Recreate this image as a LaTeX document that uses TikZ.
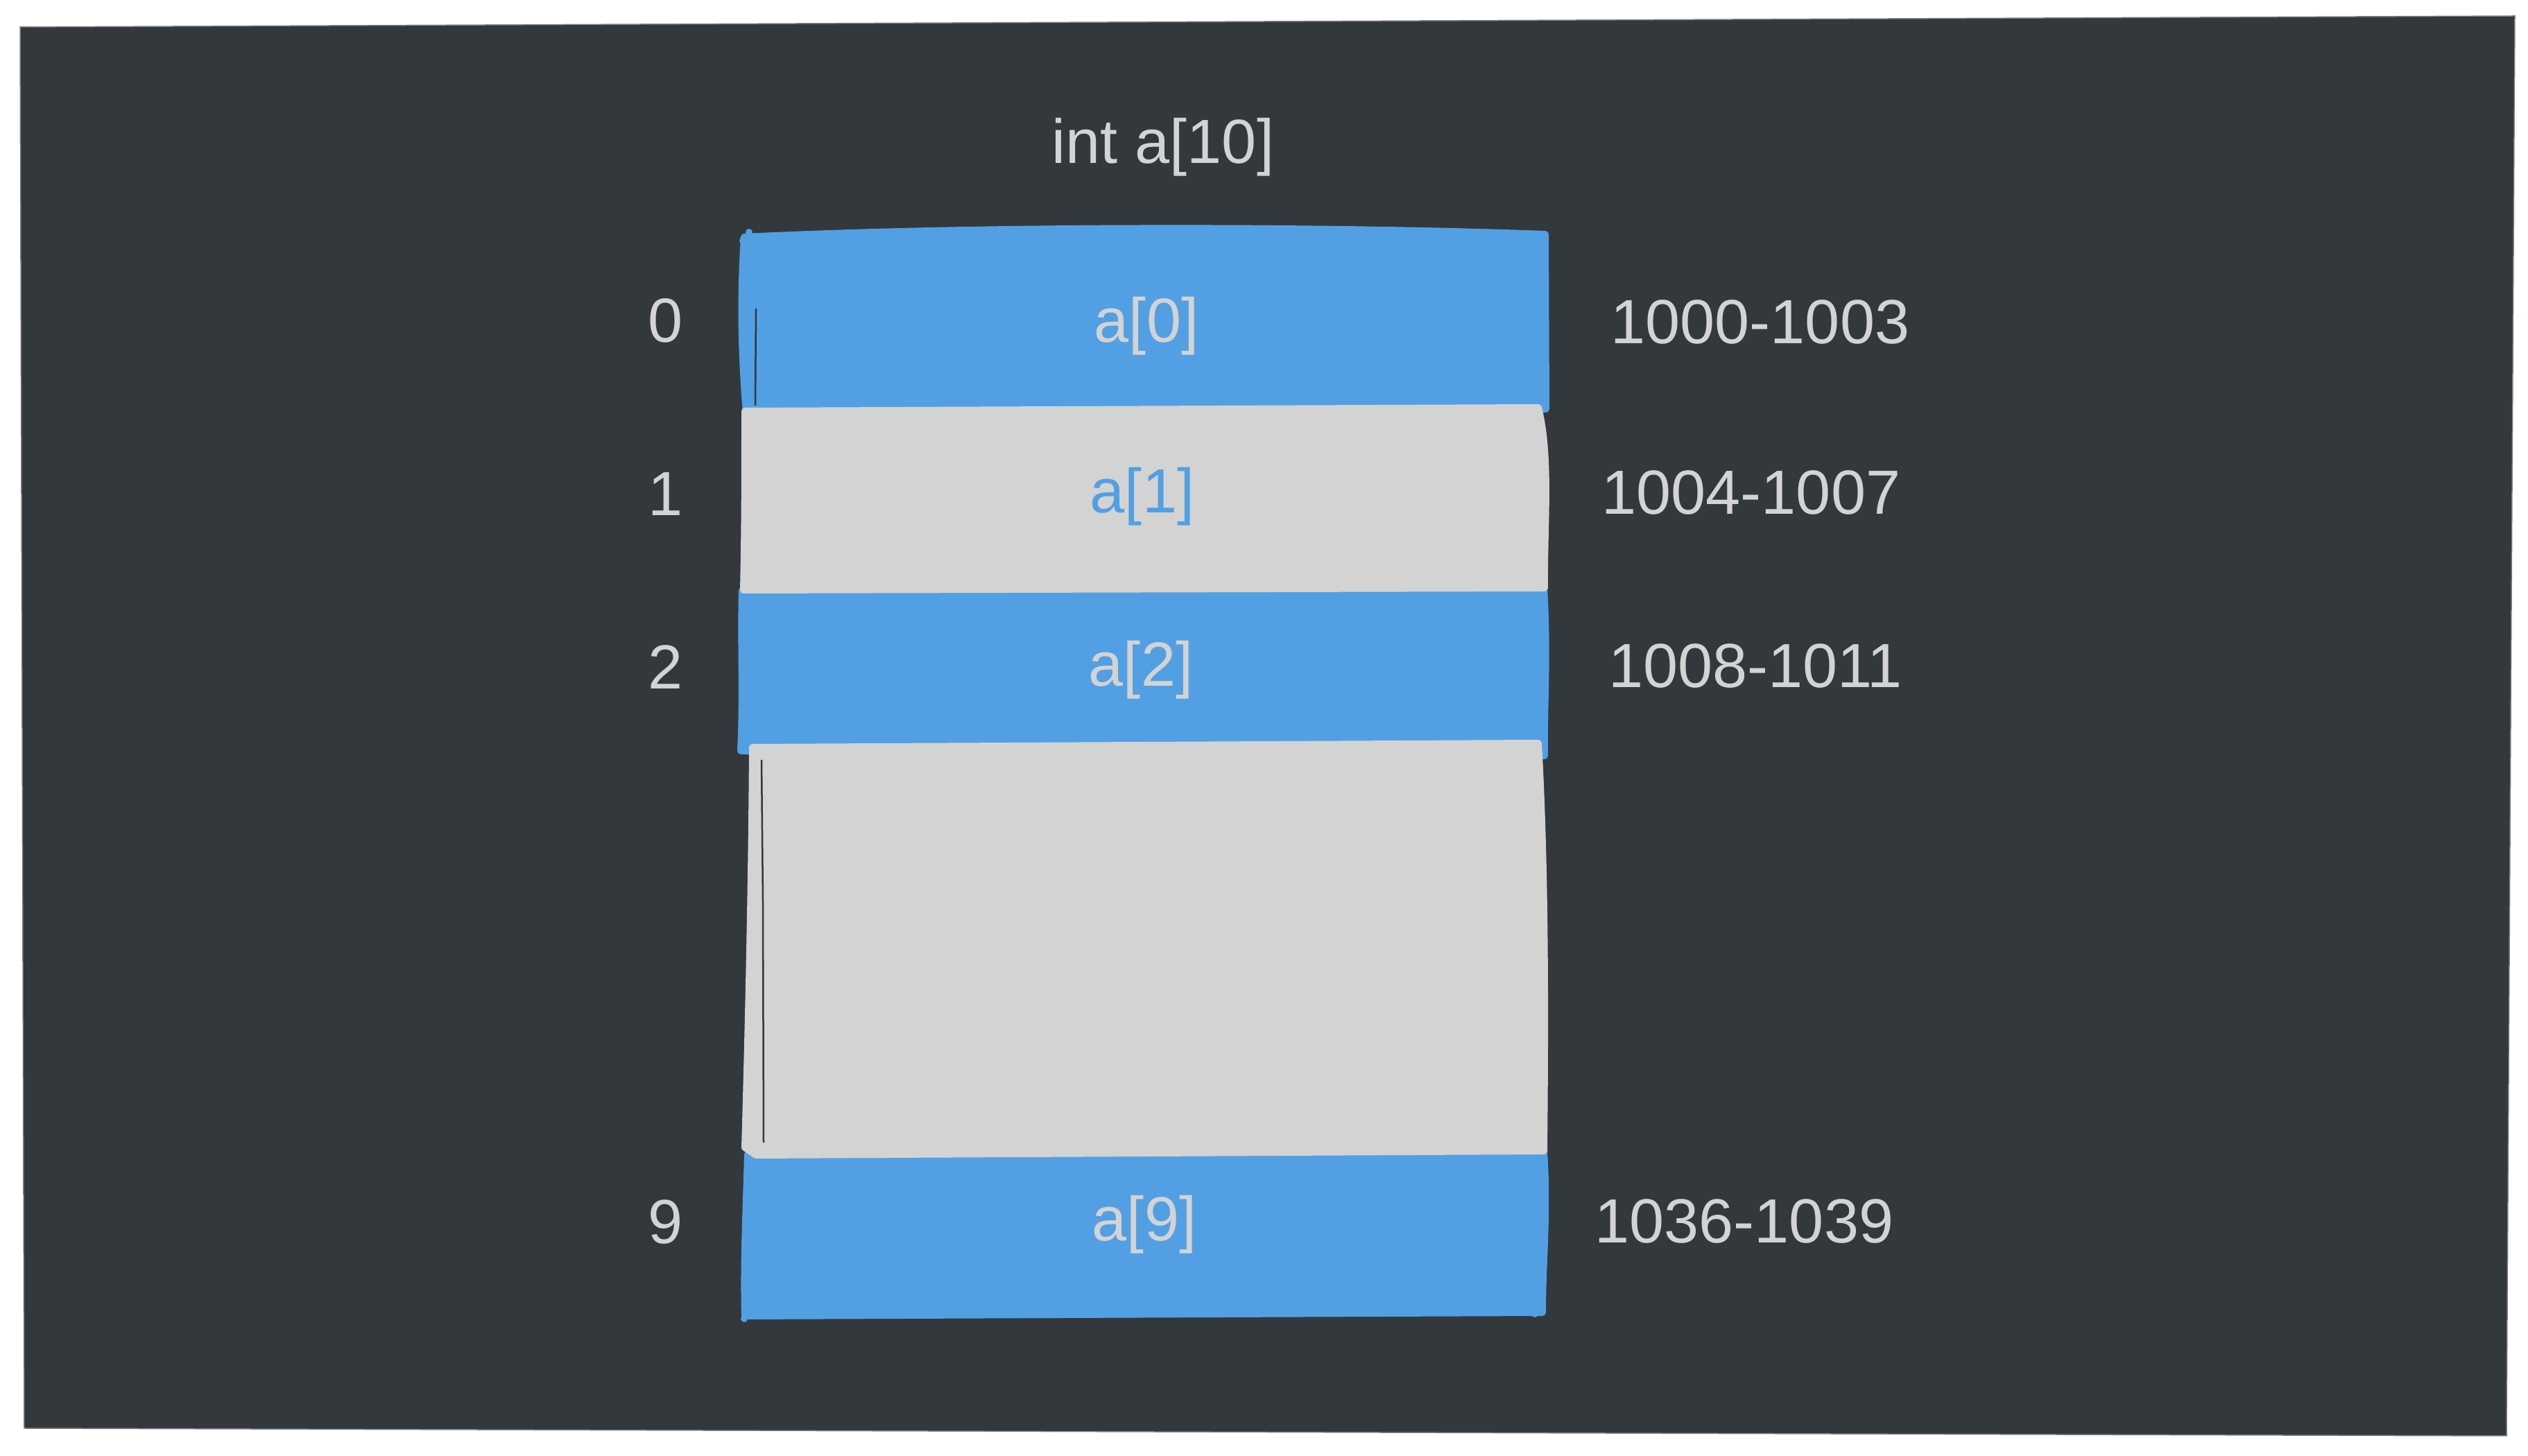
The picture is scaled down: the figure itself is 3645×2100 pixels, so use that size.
\documentclass[tikz,border=0pt]{standalone}
\usepackage{fontspec}
\setmainfont{Liberation Sans}
\definecolor{bgdark}{HTML}{33383D}
\definecolor{bgedge}{HTML}{7A7F85}
\definecolor{cellblue}{HTML}{52A0E3}
\definecolor{cellgray}{HTML}{D3D3D3}
\definecolor{txtgray}{HTML}{D3D3D3}
\tikzset{
  rowblue/.style={fill=cellblue, draw=cellblue, line width=2pt, line join=round, line cap=round},
  rowgray/.style={fill=cellgray, draw=cellgray, line width=2pt, line join=round, line cap=round},
  crack/.style={draw=bgdark, line width=0.5pt},
  txt/.style={anchor=base, inner sep=0pt, text=txtgray, font=\fontsize{18}{22}\selectfont},
  bluetxt/.style={txt, text=cellblue},
}
\begin{document}
\begin{tikzpicture}[x=0.2pt, y=-0.2pt]
\useasboundingbox (0,0) rectangle (3645,2100);
\fill[white] (0,0) rectangle (3645,2100);
% dark canvas
\filldraw[fill=bgdark, draw=bgedge, line width=0.3pt]
  (29,39) -- (3626,23) -- (3614,2071) -- (35,2060) -- cycle;

% ---- blue rows ----
% a[0]
\path[rowblue] (1073,342) .. controls (1400,326) and (1900,326) .. (2228,338)
  -- (2229,590) -- (1076,596) .. controls (1068,500) and (1068,420) .. (1073,342) -- cycle;
\fill[cellblue] (1080,335) circle (5);
\fill[cellblue] (1071,347) circle (5);
% a[2]
\path[rowblue] (1070,852) -- (2226,848) .. controls (2232,950) and (2226,1010) .. (2227,1090)
  -- (1068,1083) .. controls (1072,1000) and (1068,930) .. (1070,852) -- cycle;
% a[9]
\path[rowblue] (1078,1665) -- (2226,1661) .. controls (2232,1750) and (2224,1820) .. (2224,1893)
  -- (1074,1898) .. controls (1072,1820) and (1076,1740) .. (1078,1665) -- cycle;
\fill[cellblue] (1073,1902) circle (5);
\fill[cellblue] (2213,1895) circle (5);

% ---- gray rows ----
% a[1]
\path[rowgray] (1074,593) -- (2218,588) .. controls (2236,660) and (2226,760) .. (2227,848)
  -- (1072,851) .. controls (1074,760) and (1074,680) .. (1074,593) -- cycle;
% gap (elements 3..8)
\path[rowgray] (1085,1078) -- (2218,1072) .. controls (2228,1250) and (2228,1450) .. (2226,1660)
  -- (1090,1666) -- (1074,1655) .. controls (1080,1450) and (1084,1250) .. (1085,1078) -- cycle;
\draw[crack] (1098,1096) -- (1100,1300) -- (1101,1648);
\draw[crack] (1090,445) -- (1089,585);

% ---- labels ----
\node[txt] (title) at (1677,236) {int a[10]};

\node[txt] (i0) at (960,494) {0};
\node[txt] (i1) at (960,744) {1};
\node[txt] (i2) at (960,994) {2};
\node[txt] (i9) at (960,1794) {9};

\node[txt] (c0) at (1653,494) {a[0]};
\node[bluetxt] (c1) at (1647,740) {a[1]};
\node[txt] (c2) at (1645,990) {a[2]};
\node[txt] (c9) at (1650,1790) {a[9]};

\node[txt] (d0) at (2538,496) {1000-1003};
\node[txt] (d1) at (2525,742) {1004-1007};
\node[txt] (d2) at (2531,992) {1008-1011};
\node[txt] (d9) at (2515,1793) {1036-1039};
\end{tikzpicture}
\end{document}
